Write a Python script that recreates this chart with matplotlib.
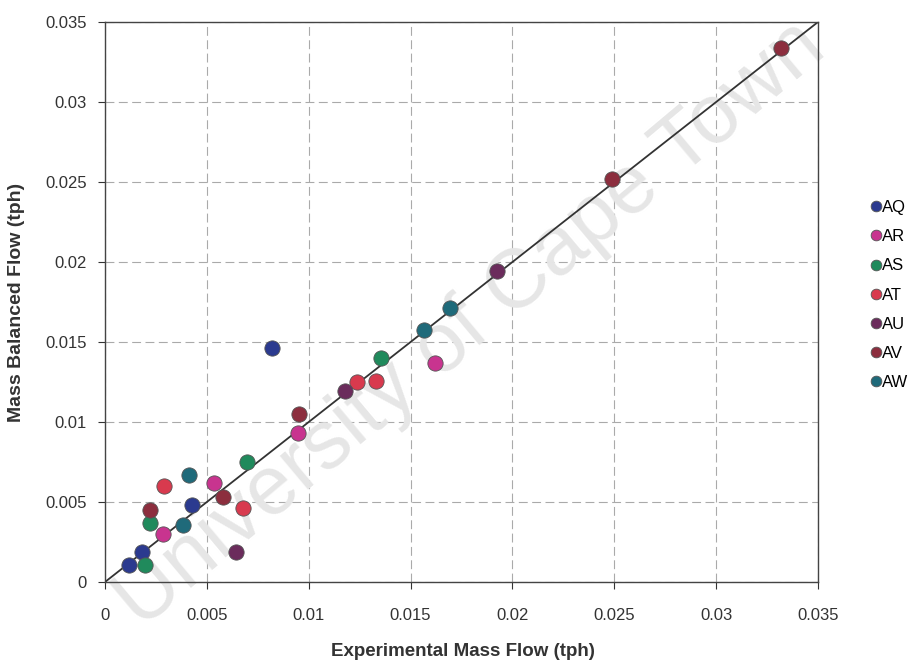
import matplotlib
matplotlib.use('Agg')
import matplotlib.pyplot as plt

plt.rcParams['font.family'] = ['Liberation Sans', 'DejaVu Sans']

series = ['AQ', 'AR', 'AS', 'AT', 'AU', 'AV', 'AW']
colors = ['#2b3a8f', '#c8348f', '#208a5c', '#d83a4e', '#6b2c5c', '#8c2e3e', '#1f6a7a']

exp_flow = {
    'AQ': [0.00118, 0.00181, 0.00426, 0.00819],
    'AR': [0.00284, 0.00534, 0.00946, 0.01618],
    'AS': [0.00196, 0.00221, 0.00696, 0.01353],
    'AT': [0.00289, 0.00676, 0.01235, 0.01328],
    'AU': [0.00642, 0.01176, 0.01922],
    'AV': [0.00221, 0.00578, 0.00951, 0.0249, 0.0332],
    'AW': [0.00382, 0.00412, 0.01564, 0.01696],
}
bal_flow = {
    'AQ': [0.00106, 0.00188, 0.00481, 0.01463],
    'AR': [0.0030, 0.00619, 0.00931, 0.01369],
    'AS': [0.00106, 0.00369, 0.0075, 0.0140],
    'AT': [0.0060, 0.00463, 0.0125, 0.01256],
    'AU': [0.00188, 0.01194, 0.01944],
    'AV': [0.0045, 0.00531, 0.0105, 0.0252, 0.0334],
    'AW': [0.00356, 0.00669, 0.01575, 0.01713],
}
ticks = [0, 0.005, 0.01, 0.015, 0.02, 0.025, 0.03, 0.035]
tick_labels = ['0', '0.005', '0.01', '0.015', '0.02', '0.025', '0.03', '0.035']

fig = plt.figure(figsize=(9.22, 6.63), dpi=100)
ax = fig.add_axes([105 / 922, 1 - 582 / 663, 713 / 922, 560 / 663])

# watermark of the source, kept under the markers
ax.text(0.51, 0.51, 'University of Cape Town', transform=fig.transFigure,
        fontsize=60, color='#e6e6e6', rotation=40, ha='center', va='center',
        zorder=1.5, clip_on=False)

ax.plot([0, 0.035], [0, 0.035], color='#333333', lw=1.3, zorder=2)
for s, c in zip(series, colors):
    ax.plot(exp_flow[s], bal_flow[s], 'o', color=c, markersize=11,
            markeredgecolor='#555555', markeredgewidth=0.6, label=s, zorder=3)

ax.set_xlim(0, 0.035)
ax.set_ylim(0, 0.035)
ax.set_xticks(ticks)
ax.set_xticklabels(tick_labels)
ax.set_yticks(ticks)
ax.set_yticklabels(tick_labels)
ax.tick_params(direction='out', length=5, labelsize=12, colors='#333333')
ax.tick_params(axis='x', pad=14)
ax.tick_params(axis='y', pad=8)
ax.grid(True, color='#aaaaaa', linestyle=(0, (8, 4)), linewidth=0.8, zorder=1)
ax.set_axisbelow(True)
for sp in ax.spines.values():
    sp.set_color('#444444')
    sp.set_linewidth(1.0)

ax.set_xlabel('Experimental Mass Flow (tph)', fontsize=13.5, fontweight='bold', color='#333333')
ax.set_ylabel('Mass Balanced Flow (tph)', fontsize=14, fontweight='bold', color='#333333')
ax.xaxis.set_label_coords(0.502, -0.109)
ax.yaxis.set_label_coords(-0.112, 0.5)
ax.xaxis.label.set_va('top')

ax.legend(loc='center left', bbox_to_anchor=(0.937, 0.555), bbox_transform=fig.transFigure,
          borderaxespad=0, frameon=False, fontsize=12, handletextpad=0.1,
          labelspacing=0.85, handlelength=0.6, markerscale=0.7)

fig.savefig('out.png', dpi=100)
